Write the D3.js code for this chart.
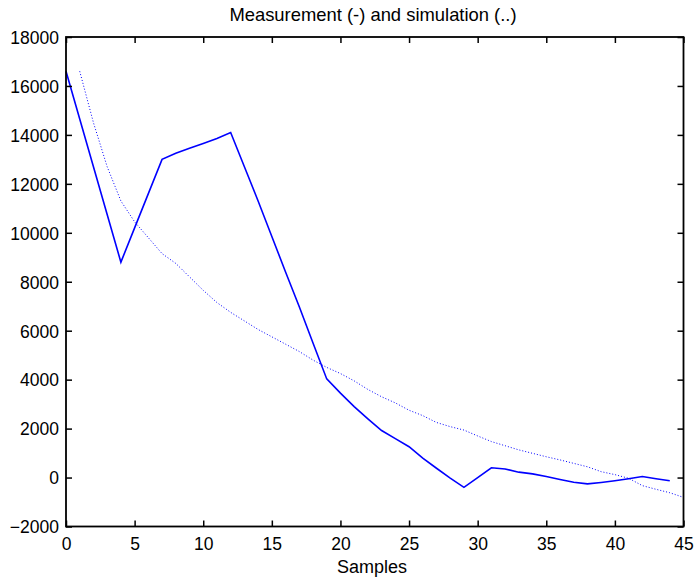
<!DOCTYPE html>
<html><head><meta charset="utf-8">
<script src="https://cdn.jsdelivr.net/npm/d3@7"></script>
<style>body{margin:0;background:#fff;} text{font-family:"Liberation Sans",Arial,sans-serif;}</style>
</head><body>
<svg id="c" width="695" height="579"></svg>
<script>
const measX = d3.range(0, 45);
const measY = [16600,14650,12700,10750,8800,10200,11600,13000,13250,13450,13650,13850,14100,12700,11300,9850,8400,6980,5500,4030,3450,2900,2400,1920,1590,1260,790,380,-20,-400,0,400,350,220,150,40,-80,-190,-260,-200,-130,-50,40,-50,-130];
const simX = d3.range(1, 46);
const simY = [16600,14500,12700,11300,10450,9800,9150,8750,8200,7650,7150,6750,6400,6050,5750,5450,5150,4800,4500,4250,3950,3600,3300,3050,2750,2530,2250,2080,1940,1700,1470,1300,1130,990,850,720,580,440,240,120,-30,-330,-480,-620,-810];
const xTicks = [0,5,10,15,20,25,30,35,40,45];
const yTicks = [-2000,0,2000,4000,6000,8000,10000,12000,14000,16000,18000];
const title = "Measurement (-) and simulation (..)";
const xLabel = "Samples";

const L=66, R=683.5, T=37, B=526.5;
const svg = d3.select("#c");
const x = d3.scaleLinear().domain([0,45]).range([L,R]);
const y = d3.scaleLinear().domain([-2000,18000]).range([B,T]);
const fs = 17.5;

const line = d3.line().x(d=>x(d[0])).y(d=>y(d[1]));
svg.append("path").datum(simX.map((v,i)=>[v,simY[i]]))
  .attr("d",line).attr("fill","none").attr("stroke","#0000ff").attr("stroke-width",1).attr("stroke-dasharray","1,2");
svg.append("path").datum(measX.map((v,i)=>[v,measY[i]]))
  .attr("d",line).attr("fill","none").attr("stroke","#0000ff").attr("stroke-width",1.6);

const tl = 6;
const gB = svg.append("g").attr("transform",`translate(0,${B})`)
  .call(d3.axisBottom(x).tickValues(xTicks).tickSizeInner(-tl).tickSizeOuter(0).tickPadding(0));
const gT = svg.append("g").attr("transform",`translate(0,${T})`)
  .call(d3.axisTop(x).tickValues(xTicks).tickSizeInner(-tl).tickSizeOuter(0).tickFormat(""));
const gL = svg.append("g").attr("transform",`translate(${L},0)`)
  .call(d3.axisLeft(y).tickValues(yTicks).tickSizeInner(-tl).tickSizeOuter(0).tickPadding(7).tickFormat(d3.format("d")));
const gR = svg.append("g").attr("transform",`translate(${R},0)`)
  .call(d3.axisRight(y).tickValues(yTicks).tickSizeInner(-tl).tickSizeOuter(0).tickFormat(""));
[gB,gT,gL,gR].forEach(g=>{
  g.select(".domain").remove();
  g.selectAll(".tick line").attr("stroke","#000").attr("stroke-width",1.5);
  g.selectAll("text").attr("font-size",fs).attr("fill","#000").attr("font-family","Liberation Sans, Arial, sans-serif");
});
gB.selectAll("text").attr("y",23.5).attr("dy",null);
gL.selectAll("text").attr("dy","0.36em");
svg.append("rect").attr("x",L).attr("y",T).attr("width",R-L).attr("height",B-T)
  .attr("fill","none").attr("stroke","#000").attr("stroke-width",1.8);

svg.append("text").attr("x",373).attr("y",21).attr("text-anchor","middle").attr("font-size",18.4).text(title);
svg.append("text").attr("x",372).attr("y",573).attr("text-anchor","middle").attr("font-size",18).text(xLabel);
</script>
</body></html>
